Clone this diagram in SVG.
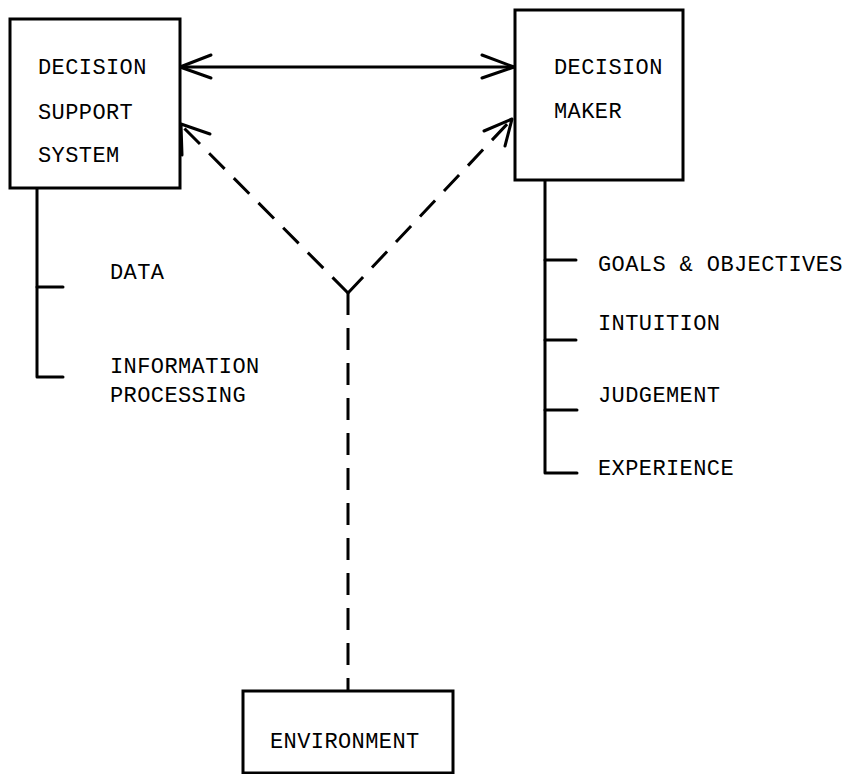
<svg xmlns="http://www.w3.org/2000/svg" width="862" height="774" viewBox="0 0 862 774">
  <style>
    .box { fill: #fff; stroke: #000; stroke-width: 3; }
    .ln { fill: none; stroke: #000; stroke-width: 3; stroke-linecap: round; stroke-linejoin: round; }
    .dash { fill: none; stroke: #000; stroke-width: 3; stroke-dasharray: 22 13; }
    .t { font-family: "Liberation Mono", "DejaVu Sans Mono", monospace; font-size: 22px; letter-spacing: 0.4px; fill: #000; }
  </style>
  <rect width="862" height="774" fill="#fff"/>

  <g id="connectors">
    <!-- two-way link between the boxes -->
    <line class="ln" x1="180" y1="67" x2="514" y2="67"/>
    <polyline class="ln" points="211,55 180,67 211,78"/>
    <polyline class="ln" points="482,55 514,67 482,78"/>
    <!-- environment influences -->
    <line class="dash" x1="348" y1="293" x2="184" y2="128"/>
    <line class="dash" x1="348" y1="293" x2="510" y2="121"/>
    <line class="dash" x1="348" y1="293" x2="348" y2="690"/>
    <polyline class="ln" points="182,155 181,124 210,134"/>
    <polyline class="ln" points="484,131 512,119 505,146"/>
    <!-- attribute brackets -->
    <polyline class="ln" points="37,188 37,377 63,377"/>
    <line class="ln" x1="37" y1="287" x2="63" y2="287"/>
    <polyline class="ln" points="545,180 545,473 577,473"/>
    <line class="ln" x1="545" y1="260" x2="576" y2="260"/>
    <line class="ln" x1="545" y1="340" x2="576" y2="340"/>
    <line class="ln" x1="545" y1="410" x2="577" y2="410"/>
  </g>

  <g id="dss">
    <rect class="box" x="10" y="19" width="170" height="169"/>
    <text class="t" x="38" y="74">DECISION</text>
    <text class="t" x="38" y="119">SUPPORT</text>
    <text class="t" x="38" y="162">SYSTEM</text>
  </g>

  <g id="dss-attributes">
    <text class="t" x="110" y="279">DATA</text>
    <text class="t" x="110" y="373">INFORMATION</text>
    <text class="t" x="110" y="402">PROCESSING</text>
  </g>

  <g id="decision-maker">
    <rect class="box" x="515" y="10" width="168" height="170"/>
    <text class="t" x="554" y="74">DECISION</text>
    <text class="t" x="554" y="118">MAKER</text>
  </g>

  <g id="dm-attributes">
    <text class="t" x="598" y="271">GOALS &amp; OBJECTIVES</text>
    <text class="t" x="598" y="330">INTUITION</text>
    <text class="t" x="598" y="402">JUDGEMENT</text>
    <text class="t" x="598" y="475">EXPERIENCE</text>
  </g>

  <g id="environment">
    <rect class="box" x="243" y="691" width="210" height="82"/>
    <text class="t" x="270" y="748">ENVIRONMENT</text>
  </g>
</svg>
